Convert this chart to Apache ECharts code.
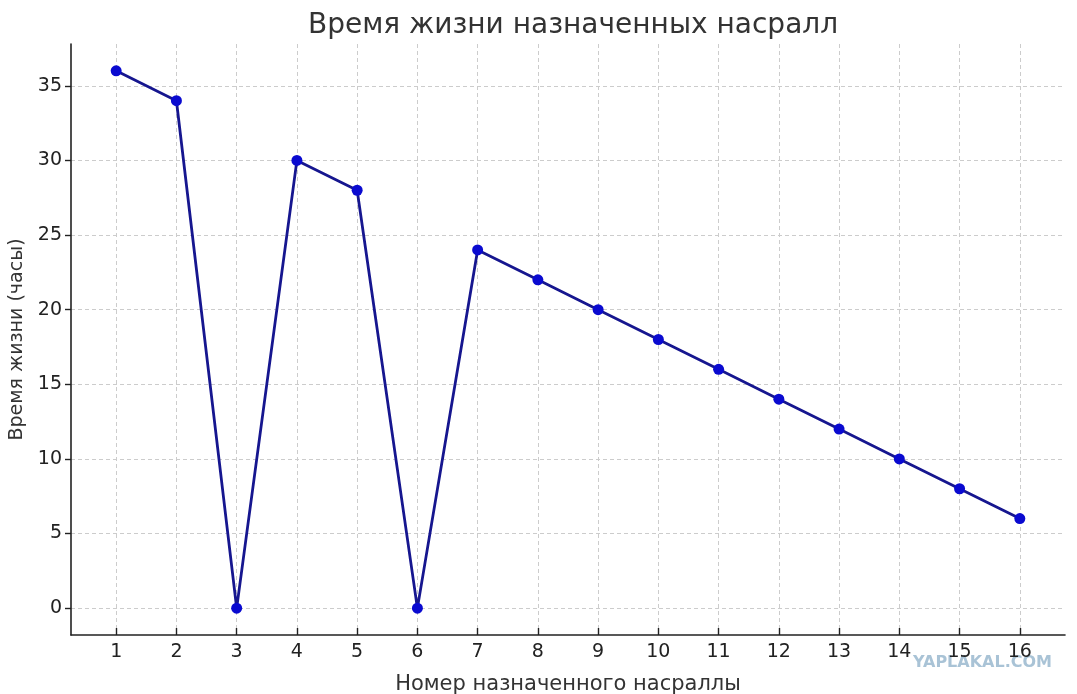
<!DOCTYPE html>
<html>
<head>
<meta charset="utf-8">
<script src="https://cdn.jsdelivr.net/npm/echarts@6/dist/echarts.min.js"></script>
<style>html,body{margin:0;padding:0;background:#fff}#c{width:1077px;height:694px}</style>
</head>
<body>
<div id="c"></div>
<script>
const xValues = [1,2,3,4,5,6,7,8,9,10,11,12,13,14,15,16];
const lifeHours = [36,34,0,30,28,0,24,22,20,18,16,14,12,10,8,6];
const yTicks = [0,5,10,15,20,25,30,35];
const titleText = 'Время жизни назначенных насралл';
const xName = 'Номер назначенного насраллы';
const yName = 'Время жизни (часы)';
const watermark = 'YAPLAKAL.COM';

const chart = echarts.init(document.getElementById('c'));
const font = 'DejaVu Sans';
chart.setOption({
  backgroundColor: '#fff',
  animation: false,
  title: {
    text: titleText, left: 568, top: 7, textAlign: 'center',
    textStyle: {fontFamily: font, fontSize: 28, fontWeight: 'normal', color: '#333'}
  },
  grid: {left: 71, right: 12, top: 44, bottom: 59, outerBoundsMode: 'none', containLabel: false},
  xAxis: {
    type: 'value', min: 0.25, max: 16.75,
    name: xName, nameLocation: 'middle', nameGap: 39,
    nameTextStyle: {fontFamily: font, fontSize: 21, color: '#333'},
    axisLine: {onZero: false, lineStyle: {color: '#222', width: 1.6}},
    axisTick: {show: true, inside: true, length: 7, customValues: xValues, lineStyle: {color: '#222', width: 1.4}},
    axisLabel: {customValues: xValues, fontFamily: font, fontSize: 19, color: '#222', margin: 8},
    splitLine: {show: true, lineStyle: {color: '#ccc', type: [4, 3], width: 1}}
  },
  yAxis: {
    type: 'value', min: -1.8, max: 37.8,
    name: yName, nameLocation: 'middle', nameGap: 44,
    nameTextStyle: {fontFamily: font, fontSize: 19, color: '#333'},
    axisLine: {show: true, lineStyle: {color: '#222', width: 1.6}},
    axisTick: {show: true, inside: false, length: 6, customValues: yTicks, lineStyle: {color: '#222', width: 1.4}},
    axisLabel: {customValues: yTicks, fontFamily: font, fontSize: 19, color: '#222', margin: 9},
    splitLine: {show: true, lineStyle: {color: '#ccc', type: [4, 3], width: 1}}
  },
  graphic: [{
    type: 'text', right: 25, top: 655,
    style: {text: watermark, fontFamily: 'DejaVu Sans', fontWeight: 'bold', fontSize: 16, fill: '#a9c3d6'}
  }],
  series: [{
    type: 'line',
    data: xValues.map((x, i) => [x, lifeHours[i]]),
    symbol: 'circle', symbolSize: 11,
    lineStyle: {color: '#16168f', width: 2.8},
    itemStyle: {color: '#0a0ad0'},
    z: 5
  }]
});
</script>
</body>
</html>
